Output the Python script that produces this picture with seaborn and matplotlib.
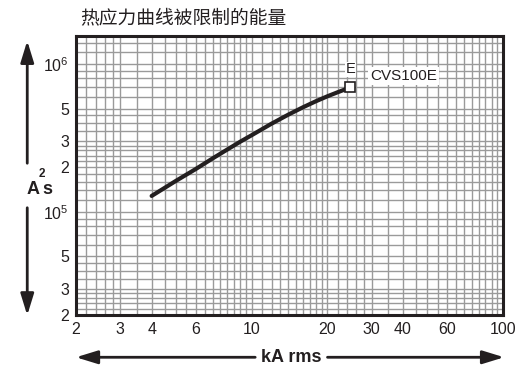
import numpy as np
import pandas as pd
import matplotlib
matplotlib.use("Agg")
import matplotlib.pyplot as plt
from matplotlib.patches import FancyArrowPatch
from matplotlib.ticker import FixedLocator, FixedFormatter
import seaborn as sns

# curve (kA rms vs A^2s)
current = [4, 5, 6, 7, 8, 9, 10, 12, 14, 16, 18, 20, 22, 24.7]
energy = [1.28e5, 1.62e5, 1.95e5, 2.3e5, 2.64e5, 2.98e5, 3.3e5, 3.95e5,
          4.55e5, 5.1e5, 5.6e5, 6.05e5, 6.45e5, 6.95e5]
curve_name = "CVS100E"
end_tag = "E"

x_ticks = [2, 3, 4, 6, 10, 20, 30, 40, 60, 100]
x_labels = ["2", "3", "4", "6", "10", "20", "30", "40", "60", "100"]
y_ticks = [2e4, 3e4, 5e4, 1e5, 2e5, 3e5, 5e5, 1e6]
y_labels = ["2", "3", "5", r"$\mathregular{10^5}$", "2", "3", "5", r"$\mathregular{10^6}$"]

# grid line positions
x_grid = (list(np.arange(2, 3, 0.2)) + list(np.arange(3, 10, 0.5)) +
          list(np.arange(10, 20, 1)) + list(np.arange(20, 30, 2)) + list(np.arange(30, 100, 5)))
y_dec = [1, 1.2, 1.4, 1.6, 1.8, 2, 2.2, 2.4, 2.6, 2.8, 3, 3.5, 4, 4.5, 5, 6, 7, 8, 9]
y_grid = [v * 1e4 for v in y_dec] + [v * 1e5 for v in y_dec] + [v * 1e6 for v in y_dec]

sns.set_style("white")
plt.rcParams["font.family"] = ["Liberation Sans", "Noto Sans CJK SC", "DejaVu Sans"]

df = pd.DataFrame({"I": current, "E": energy})

fig = plt.figure(figsize=(5.24, 3.71), dpi=100)
ax = fig.add_axes([0.145, 0.151, 0.815, 0.752])
ax.set_xscale("log")
ax.set_yscale("log")
ax.set_xlim(2, 100)
ax.set_ylim(2e4, 1.55e6)

ax.xaxis.set_minor_locator(FixedLocator(x_grid))
ax.yaxis.set_minor_locator(FixedLocator(y_grid))
ax.xaxis.set_major_locator(FixedLocator(x_ticks))
ax.xaxis.set_major_formatter(FixedFormatter(x_labels))
ax.yaxis.set_major_locator(FixedLocator(y_ticks))
ax.yaxis.set_major_formatter(FixedFormatter(y_labels))
ax.xaxis.set_minor_formatter(FixedFormatter([]))
ax.yaxis.set_minor_formatter(FixedFormatter([]))
ax.tick_params(which="both", length=0, labelsize=11.5, colors="#231f20")
ax.tick_params(axis="x", pad=5)
ax.tick_params(axis="y", pad=5)
ax.grid(which="both", color="#9a9a9a", linewidth=1.0)
ax.set_axisbelow(True)
for s in ax.spines.values():
    s.set_visible(True)
    s.set_color("#231f20")
    s.set_linewidth(2.2)

sns.lineplot(data=df, x="I", y="E", ax=ax, color="#231f20", linewidth=3)
ax.plot(current[-1], energy[-1], marker="s", markersize=7, markerfacecolor="white",
        markeredgecolor="#231f20", markeredgewidth=1.2, zorder=5)
ax.annotate(end_tag, (current[-1], energy[-1]), xytext=(0, 8), textcoords="offset points",
            ha="center", va="bottom", fontsize=10.5, color="#231f20",
            bbox=dict(facecolor="white", edgecolor="none", pad=0.5))
ax.annotate(curve_name, (current[-1], energy[-1]), xytext=(14, 8), textcoords="offset points",
            ha="left", va="center", fontsize=11, color="#231f20",
            bbox=dict(facecolor="white", edgecolor="none", pad=1.5))
ax.set_xlabel("")
ax.set_ylabel("")

fig.text(0.153, 0.952, "热应力曲线被限制的能量", fontsize=13.5, color="#231f20",
         ha="left", va="center")

# axis labels with long arrows
arrow = dict(arrowstyle="-|>,head_length=13,head_width=4", color="#231f20", lw=2,
             shrinkA=0, shrinkB=0, transform=fig.transFigure)
fig.text(0.064, 0.49, "A", fontsize=13, fontweight="bold", ha="center", va="center",
         color="#231f20")
fig.text(0.079, 0.532, "2", fontsize=8.5, fontweight="bold", ha="center", va="center",
         color="#231f20")
fig.text(0.091, 0.49, "s", fontsize=13, fontweight="bold", ha="center", va="center",
         color="#231f20")
fig.add_artist(FancyArrowPatch((0.052, 0.56), (0.052, 0.89), **arrow))
fig.add_artist(FancyArrowPatch((0.052, 0.44), (0.052, 0.15), **arrow))

fig.text(0.555, 0.037, "kA rms", fontsize=13, fontweight="bold", ha="center", va="center",
         color="#231f20")
fig.add_artist(FancyArrowPatch((0.487, 0.037), (0.145, 0.037), **arrow))
fig.add_artist(FancyArrowPatch((0.625, 0.037), (0.962, 0.037), **arrow))

fig.savefig("out.png", dpi=100)
